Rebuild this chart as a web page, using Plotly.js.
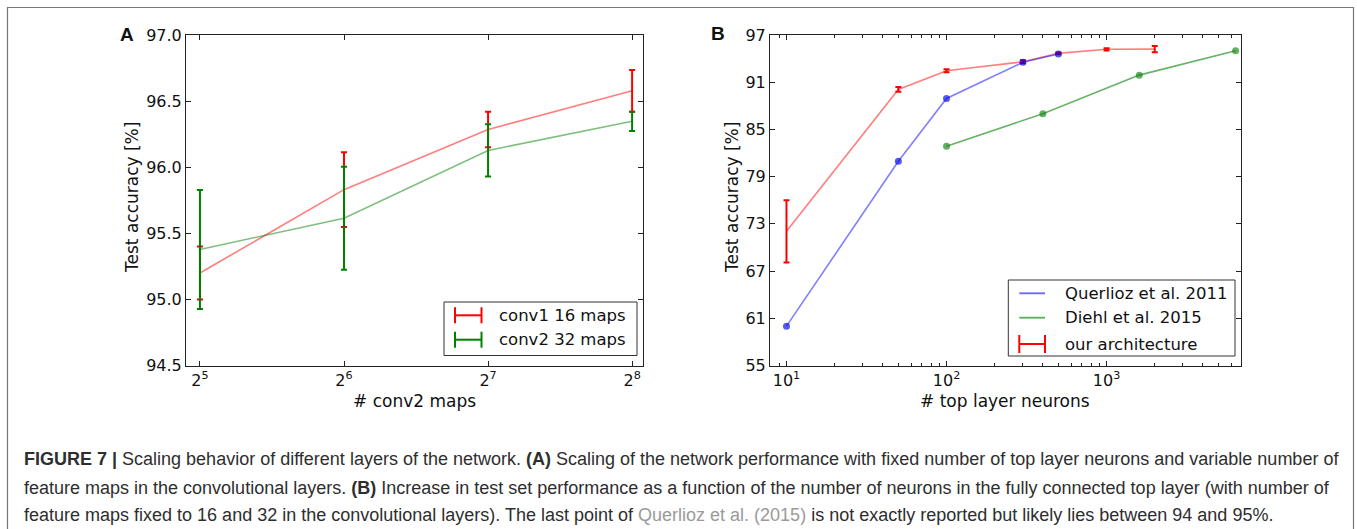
<!DOCTYPE html>
<html>
<head>
<meta charset="utf-8">
<script src="https://cdn.plot.ly/plotly-3.0.1.min.js"></script>
<style>html,body{margin:0;padding:0;background:#fff;}#chart{width:1357px;height:529px;}</style>
</head>
<body>
<div id="chart"></div>
<script>
// ---------- Data: panel A ----------
const convMaps = [32, 64, 128, 256];
const convTickText = ['2<sup>5</sup>', '2<sup>6</sup>', '2<sup>7</sup>', '2<sup>8</sup>'];
const conv1Acc = [95.20, 95.83, 96.285, 96.578];
const conv1Err = [0.20, 0.283, 0.135, 0.158];
const conv2Acc = [95.378, 95.614, 96.127, 96.347];
const conv2Err = [0.45, 0.39, 0.198, 0.073];
const seriesNamesA = ['conv1 16 maps', 'conv2 32 maps'];

// ---------- Data: panel B ----------
const neuronsOurs = [10, 50, 100, 300, 500, 1000, 2000];
const accOurs = [72.05, 90.09, 92.46, 93.6, 94.67, 95.18, 95.2];
const errOurs = [3.95, 0.3, 0.2, 0.2, 0.12, 0.15, 0.4];
const neuronsQuerlioz = [10, 50, 100, 300, 500];
const accQuerlioz = [60.0, 80.96, 88.94, 93.53, 94.58];
const neuronsDiehl = [100, 400, 1600, 6400];
const accDiehl = [82.87, 87.0, 91.9, 95.0];
const seriesNamesB = ['Querlioz et al. 2011', 'Diehl et al. 2015', 'our architecture'];
const neuronTickVals = [10, 100, 1000];
const neuronTickText = ['10<sup>1</sup>', '10<sup>2</sup>', '10<sup>3</sup>'];

// ---------- Layout helpers ----------
const W = 1357, H = 529;
const X = px => px / W;
const Y = py => 1 - py / H;
const FONT = 'DejaVu Sans, sans-serif';
const minorB = [];
for (const dec of [1, 10, 100, 1000]) for (let k = 2; k <= 9; k++) minorB.push(k * dec);

const axisCommon = {
  showline: true, linecolor: '#222', linewidth: 1, mirror: 'ticks',
  ticks: 'inside', ticklen: 5, tickcolor: '#222', tickwidth: 1,
  showgrid: false, zeroline: false,
  tickfont: {family: FONT, size: 16, color: '#111'}
};

const traces = [
  {x: convMaps, y: conv1Acc, mode: 'lines', name: seriesNamesA[0],
   line: {color: 'rgba(255,0,0,0.5)', width: 1.6},
   error_y: {type: 'data', array: conv1Err, color: '#ff0000', thickness: 2, width: 3},
   xaxis: 'x', yaxis: 'y', showlegend: false},
  {x: convMaps, y: conv2Acc, mode: 'lines', name: seriesNamesA[1],
   line: {color: 'rgba(0,128,0,0.5)', width: 1.6},
   error_y: {type: 'data', array: conv2Err, color: '#008000', thickness: 2, width: 3},
   xaxis: 'x', yaxis: 'y', showlegend: false},
  {x: neuronsOurs, y: accOurs, mode: 'lines', name: seriesNamesB[2],
   line: {color: 'rgba(255,0,0,0.5)', width: 1.6},
   error_y: {type: 'data', array: errOurs, color: '#ff0000', thickness: 2, width: 3},
   xaxis: 'x2', yaxis: 'y2', showlegend: false},
  {x: neuronsQuerlioz, y: accQuerlioz, mode: 'lines+markers', name: seriesNamesB[0],
   line: {color: 'rgba(0,0,255,0.5)', width: 1.6},
   marker: {color: 'rgba(0,0,230,0.65)', size: 7},
   xaxis: 'x2', yaxis: 'y2', showlegend: false},
  {x: neuronsDiehl, y: accDiehl, mode: 'lines+markers', name: seriesNamesB[1],
   line: {color: 'rgba(0,128,0,0.6)', width: 1.6},
   marker: {color: 'rgba(0,120,0,0.6)', size: 7},
   xaxis: 'x2', yaxis: 'y2', showlegend: false}
];

const shapes = [];
const annotations = [];
function pline(x0, y0, x1, y1, color, width) {
  shapes.push({type: 'line', xref: 'paper', yref: 'paper', x0: X(x0), y0: Y(y0), x1: X(x1), y1: Y(y1),
    line: {color: color, width: width}});
}
function prect(x0, y0, x1, y1, color, width) {
  shapes.push({type: 'rect', xref: 'paper', yref: 'paper', x0: X(x0), y0: Y(y0), x1: X(x1), y1: Y(y1),
    line: {color: color, width: width}, fillcolor: 'rgba(255,255,255,1)'});
}
function ptext(x, y, text, opts) {
  annotations.push(Object.assign({xref: 'paper', yref: 'paper', x: X(x), y: Y(y), text: text,
    showarrow: false, xanchor: 'left', yanchor: 'middle',
    font: {family: FONT, size: 17, color: '#111'}}, opts || {}));
}
function errIcon(x0, x1, y, half, color) {
  pline(x0, y, x1, y, color, 2);
  pline(x0, y - half, x0, y + half, color, 2);
  pline(x1, y - half, x1, y + half, color, 2);
}

// outer frame
shapes.push({type: 'rect', xref: 'paper', yref: 'paper', x0: X(7.5), y0: -0.1, x1: X(1353.5), y1: Y(7.5),
  line: {color: '#777', width: 1.2}});

const legFont = {family: FONT, size: 16.5, color: '#111'};

// legend A
prect(444, 302, 637, 355.5, '#333', 1);
errIcon(455, 481.5, 315.3, 8, '#ff0000');
errIcon(455, 481.5, 339.7, 8, '#008000');
ptext(497, 315.3, seriesNamesA[0], {font: legFont});
ptext(497, 339.7, seriesNamesA[1], {font: legFont});

// legend B
prect(1008.3, 280, 1235, 356, '#333', 1);
pline(1019.3, 293.3, 1045, 293.3, 'rgba(0,0,255,0.6)', 1.8);
pline(1019.3, 317.7, 1045, 317.7, 'rgba(0,128,0,0.65)', 1.8);
errIcon(1019.3, 1045, 344, 9, '#ff0000');
ptext(1062.7, 293.3, seriesNamesB[0], {font: legFont});
ptext(1062.7, 317.7, seriesNamesB[1], {font: legFont});
ptext(1062.7, 344, seriesNamesB[2], {font: legFont});

// panel letters
ptext(127, 35, '<b>A</b>', {xanchor: 'center', font: {family: 'Liberation Sans, Arial, sans-serif', size: 19, color: '#111'}});
ptext(718, 34, '<b>B</b>', {xanchor: 'center', font: {family: 'Liberation Sans, Arial, sans-serif', size: 19, color: '#111'}});

// axis titles
ptext(414, 401, '# conv2 maps', {xanchor: 'center'});
ptext(1005, 401, '# top layer neurons', {xanchor: 'center'});
ptext(132, 198, 'Test accuracy [%]', {xanchor: 'center', textangle: -90});
ptext(732, 198, 'Test accuracy [%]', {xanchor: 'center', textangle: -90});

// caption
const capFont = {family: 'Liberation Sans, Arial, sans-serif', size: 18, color: '#2e2e2e'};
ptext(22, 459, '<b>FIGURE 7 |</b> Scaling behavior of different layers of the network. <b>(A)</b> Scaling of the network performance with fixed number of top layer neurons and variable number of', {font: capFont});
ptext(22, 487.5, 'feature maps in the convolutional layers. <b>(B)</b> Increase in test set performance as a function of the number of neurons in the fully connected top layer (with number of', {font: capFont});
ptext(22, 515, 'feature maps fixed to 16 and 32 in the convolutional layers). The last point of <span style="color:#9a9a9a">Querlioz et al. (2015)</span> is not exactly reported but likely lies between 94 and 95%.', {font: capFont});

const layout = {
  width: W, height: H,
  margin: {l: 0, r: 0, t: 0, b: 0},
  paper_bgcolor: '#fff', plot_bgcolor: '#fff',
  showlegend: false,
  xaxis: Object.assign({}, axisCommon, {
    type: 'log', domain: [X(186), X(643)], range: [1.4760, 2.4310], anchor: 'y',
    tickmode: 'array', tickvals: convMaps, ticktext: convTickText
  }),
  yaxis: Object.assign({}, axisCommon, {
    domain: [Y(365.5), Y(35)], range: [94.5, 97.0], anchor: 'x',
    tickmode: 'linear', tick0: 94.5, dtick: 0.5, tickformat: '.1f'
  }),
  xaxis2: Object.assign({}, axisCommon, {
    type: 'log', domain: [X(770), X(1241)], range: [0.897, 3.840], anchor: 'y2',
    tickmode: 'array', tickvals: neuronTickVals, ticktext: neuronTickText,
    minor: {tickmode: 'array', tickvals: minorB, ticks: 'inside', ticklen: 3, tickcolor: '#222', showgrid: false}
  }),
  yaxis2: Object.assign({}, axisCommon, {
    domain: [Y(365.5), Y(35)], range: [55, 97], anchor: 'x2',
    tickmode: 'linear', tick0: 55, dtick: 6
  }),
  shapes: shapes,
  annotations: annotations
};

Plotly.newPlot('chart', traces, layout, {displayModeBar: false, staticPlot: true});
</script>
</body>
</html>
